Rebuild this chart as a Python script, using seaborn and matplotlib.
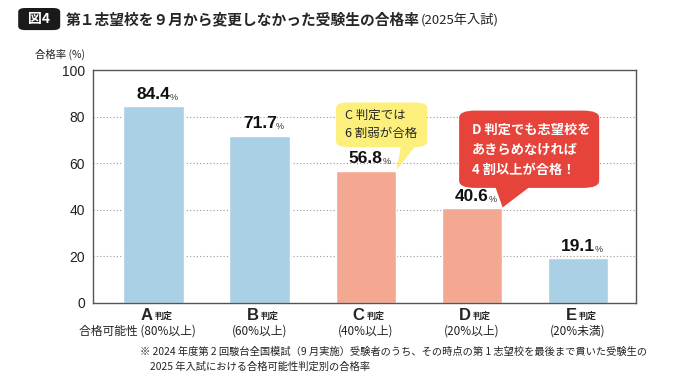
import matplotlib
matplotlib.use("Agg")
import matplotlib.pyplot as plt
from matplotlib.patches import FancyBboxPatch, Polygon
import seaborn as sb
import pandas as pd

# data
judges = ["A", "B", "C", "D", "E"]
rates = [84.4, 71.7, 56.8, 40.6, 19.1]
ranges = ["合格可能性 (80%以上)", "(60%以上)", "(40%以上)", "(20%以上)", "(20%未満)"]
yticks = [0, 20, 40, 60, 80, 100]

blue = "#a9d0e5"
salmon = "#f4a892"
colors = [blue, blue, salmon, salmon, blue]

sb.set_style("white")
plt.rcParams['font.family'] = ['Noto Sans CJK JP', 'DejaVu Sans']
latin = ['Liberation Sans', 'Noto Sans CJK JP']

df = pd.DataFrame({"judge": judges, "rate": rates})

fig = plt.figure(figsize=(7, 3.81), dpi=100)
ax = fig.add_axes([0.133, 0.205, 0.776, 0.611])
sb.barplot(data=df, x="judge", y="rate", hue="judge", palette=colors,
           legend=False, width=0.57, saturation=1, ax=ax, zorder=2)

ax.set_xlim(-0.57, 4.55)
ax.set_ylim(0, 100)
ax.set_yticks(yticks)
ax.set_yticklabels([str(v) for v in yticks], fontsize=10, color="#222222", family=latin)
ax.tick_params(axis="y", length=0, pad=6)
ax.set_xticks([])
ax.set_xlabel("")
ax.set_ylabel("")
for y in yticks[1:-1]:
    ax.axhline(y, color="#999999", lw=0.8, ls=(0, (1, 2)), zorder=1)
for s in ax.spines.values():
    s.set_color("#555555")
    s.set_linewidth(1.0)

# value labels (number + small %)
for i, v in enumerate(rates):
    ax.text(i + 0.16, v + 2.0, f"{v}", ha="right", va="bottom", fontsize=12.5,
            fontweight="bold", color="#111111", family=latin)
    ax.text(i + 0.155, v + 2.0, "%", ha="left", va="bottom", fontsize=6.5,
            color="#333333", family=latin)

# x labels
for i, j in enumerate(judges):
    ax.text(i - 0.01, -2.3, j, ha="right", va="top", fontsize=12, fontweight="bold",
            family=latin, clip_on=False)
    ax.text(i + 0.01, -3.6, "判定", ha="left", va="top", fontsize=6.5,
            fontweight="bold", clip_on=False)
    ax.text(i if i else -0.15, -9.2, ranges[i], ha="center", va="top",
            fontsize=8.5, color="#222222", clip_on=False)

# axis title
fig.text(0.05, 0.856, "合格率 (%)", fontsize=7.5, color="#222222", va="center")

# figure title
fig.patches.append(FancyBboxPatch((0.03, 0.925), 0.052, 0.05,
                                  boxstyle="round,pad=0.004,rounding_size=0.01",
                                  transform=fig.transFigure, fc="#1a1a1a", ec="none"))
fig.text(0.056, 0.95, "図4", color="white", fontsize=10, fontweight="bold",
         ha="center", va="center")
fig.text(0.094, 0.95, "第１志望校を９月から変更しなかった受験生の合格率",
         fontsize=10.6, fontweight="bold", va="center")
fig.text(0.601, 0.947, "(2025年入試)", fontsize=9.5, va="center")

# callout C
yellow = "#fcef7b"
ax.add_patch(FancyBboxPatch((1.75, 67.5), 0.8, 18,
                            boxstyle="round,pad=0.03,rounding_size=0.12",
                            fc=yellow, ec="none", zorder=3, mutation_aspect=20))
ax.add_patch(Polygon([(2.33, 67), (2.46, 67), (2.29, 57)], closed=True,
                     fc=yellow, ec="none", zorder=3))
ax.text(1.8, 80.7, "C 判定では", fontsize=9, va="center", zorder=4)
ax.text(1.8, 73.0, "6 割弱が合格", fontsize=9, va="center", zorder=4)

# callout D
red = "#e6443b"
ax.add_patch(FancyBboxPatch((2.91, 50), 1.26, 32,
                            boxstyle="round,pad=0.03,rounding_size=0.15",
                            fc=red, ec="none", zorder=3, mutation_aspect=20))
ax.add_patch(Polygon([(3.22, 50), (3.55, 50), (3.29, 41)], closed=True,
                     fc=red, ec="none", zorder=3))
for k, line in enumerate(["D 判定でも志望校を", "あきらめなければ", "4 割以上が合格！"]):
    ax.text(3.0, 74.2 - k * 8.6, line, color="white", fontsize=9.5, fontweight="bold",
            va="center", zorder=4)

# footnote
fig.text(0.2, 0.076, "※ 2024 年度第 2 回駿台全国模試（9 月実施）受験者のうち、その時点の第 1 志望校を最後まで貫いた受験生の",
         fontsize=7.4, color="#222222", va="center")
fig.text(0.215, 0.037, "2025 年入試における合格可能性判定別の合格率",
         fontsize=7.4, color="#222222", va="center")

fig.savefig("out.png", dpi=100)
